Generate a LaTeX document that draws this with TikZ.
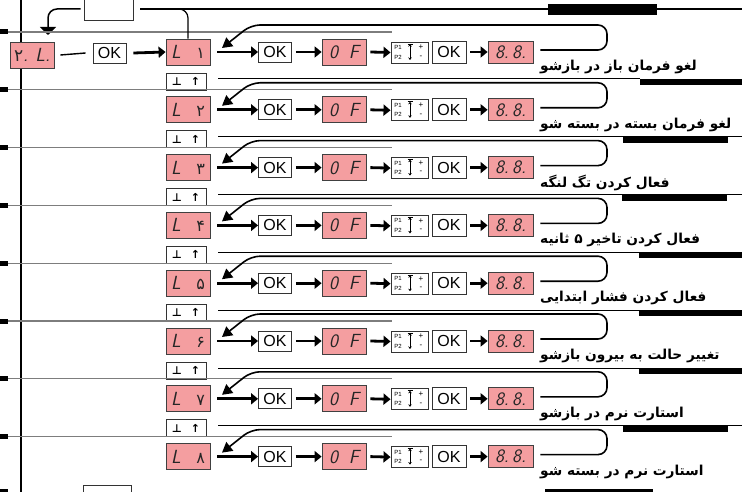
\documentclass[tikz,border=0pt]{standalone}
\usepackage{fontspec}
\usetikzlibrary{arrows.meta,calc}
\newfontfamily\arabicfont[Script=Arabic]{DejaVu Sans}
\newfontfamily\dejavu{DejaVu Sans}
\newfontfamily\helv{Liberation Sans}
\TeXXeTstate=1
\definecolor{pinkbox}{RGB}{244,158,160}
\definecolor{sepgray}{RGB}{125,125,125}
\newcommand\segfont{\sffamily\itshape\fontsize{19}{19}\selectfont}
\begin{document}
\begin{tikzpicture}[x=1pt,y=-1pt,
  pbox/.style={draw=black!75, fill=pinkbox, line width=0.8pt, inner sep=0pt, minimum width=44pt, minimum height=26pt, font=\segfont, text=black!85},
  wbox/.style={draw=black!80, fill=white, line width=0.9pt, inner sep=0pt},
  okbox/.style={wbox, minimum width=33pt, minimum height=20pt, font=\helv\fontsize{16}{16}\selectfont},
  thickarr/.style={line width=2.8pt, -{Triangle[length=7pt,width=11pt]}},
  loopline/.style={line width=1.6pt, -{Triangle[length=10pt,width=11pt]}},
  thinline/.style={line width=1pt},
  sep/.style={line width=1.1pt, draw=sepgray},
  tiny/.style={inner sep=0pt, font=\helv\fontsize{6}{6}\selectfont},
  ptext/.style={anchor=west, inner sep=0pt, font=\arabicfont\bfseries\fontsize{13.7}{13.7}\selectfont}
]
\useasboundingbox (0,0) rectangle (742,492);

% left vertical line
\draw[line width=2pt] (21,0) -- (21,492);
\fill (0,489) rectangle (8,495);

% top part
\node[wbox, minimum width=49pt, minimum height=22pt] (top) at (108.5,9) {};
\fill (548,4) rectangle (657,15);
\draw[line width=1.2pt] ([xshift=7pt]top.east) -- (742,9);
\node[pbox] (rl) at (32,55) {\makebox[36pt]{{\arabicfont\upshape\fontsize{17}{17}\selectfont ۲}.\hfill L.}};
\node[okbox] (ok0) at (109.5,53) {OK};
\draw[line width=1.4pt] ([xshift=6pt]rl.east) -- ([xshift=-7pt]ok0.west);
\draw[line width=1.5pt, rounded corners=9pt, -{Triangle[length=8pt,width=16pt]}] ([xshift=-3pt]top.west) -- (48,9) -- (48,35);

% bottom part
\fill (545,489) rectangle (653,495);
\node[wbox, minimum width=48pt, minimum height=16pt] (bot) at (107,493) {};

\foreach \i/\d/\txt/\le/\ba/\bb in {
 1/۱/لغو فرمان باز در بازشو/640/640/742,
 2/۲/لغو فرمان بسته در بسته شو/742/623/728,
 3/۳/فعال کردن تگ لنگه/742/622/727,
 4/۴/فعال کردن تاخیر ۵ ثانیه/640/639/742,
 5/۵/فعال کردن فشار ابتدایی/640/639/742,
 6/۶/تغییر حالت به بیرون بازشو/640/639/742,
 7/۷/استارت نرم در بازشو/742/623/728,
 8/۸/استارت نرم در بسته شو/0/0/0}
{
  \pgfmathsetmacro\yc{52+57.8*(\i-1)}
  % separator
  \draw[sep] (0,\yc-20) -- (392,\yc-20);
  \fill (0,\yc-22.5) rectangle (8,\yc-17.5);
  % boxes
  \node[pbox] (L\i) at (188,\yc) {\makebox[34pt]{L\hfill{\arabicfont\upshape\fontsize{16}{16}\selectfont \d}}};
  \node[okbox] (ka\i) at (275,\yc) {OK};
  \node[pbox] (f\i) at (344,\yc) {\makebox[30pt]{0\hfill F}};
  \node[wbox, minimum width=37pt, minimum height=21pt] (p\i) at (409.5,\yc+0.5) {};
  \node[tiny] (pa\i) at (398,\yc-4.5) {P1};
  \node[tiny] (pb\i) at (398,\yc+5) {P2};
  \node[tiny, font=\helv\fontsize{8}{8}\selectfont] (pc\i) at (421,\yc-4.5) {+};
  \node[tiny, font=\helv\fontsize{8}{8}\selectfont] (pd\i) at (421,\yc+5) {-};
  \draw[line width=0.8pt, {Stealth[length=2.5pt,width=3.5pt]}-{Stealth[length=2.5pt,width=3.5pt]}] (410,\yc-8) -- (410,\yc+8);
  \draw[line width=0.8pt] (407.5,\yc-8) -- (412.5,\yc-8);
  \node[okbox, minimum width=34pt, minimum height=22pt] (kb\i) at (449,\yc) {OK};
  \node[pbox, minimum width=45pt, minimum height=22pt] (e\i) at (510.5,\yc) {8.\,8.};
  % arrows
  \draw[thickarr] ([xshift=7pt]L\i.east) -- (ka\i.west);
  \draw[thickarr] ([xshift=4pt]ka\i.east) -- (f\i.west);
  \draw[thickarr] ([xshift=4pt]f\i.east) -- (p\i.west);
  \draw[thickarr] ([xshift=4pt]kb\i.east) -- (e\i.west);
  % loop back
  \coordinate (t\i) at (222,\yc-4);
  \draw[loopline, rounded corners=9pt] ([xshift=7pt,yshift=2pt]e\i.east) -- (607,\yc-2) -- (607,\yc-27) -- (251,\yc-27) [rounded corners=4pt] -- (t\i);
  % text
  \node[ptext] (tx\i) at (540,\yc+15) {\beginR \txt\endR};
  \ifnum\i<8
    \node[wbox, minimum width=40pt, minimum height=17pt] (u\i) at (186,\yc+29.5) {\dejavu\bfseries\fontsize{11}{11}\selectfont ⊥\hspace{9pt}↑};
    \draw[thinline] (218,\yc+27) -- (\le,\yc+27);
    \fill (\ba,\yc+27) rectangle (\bb,\yc+33);
  \fi
}
% links into L1
\draw[thickarr] ([xshift=7pt]ok0.east) -- (L1.west);
\draw[line width=1.2pt, rounded corners=9pt] (172,9) -| (L1.north);
\end{tikzpicture}
\end{document}
